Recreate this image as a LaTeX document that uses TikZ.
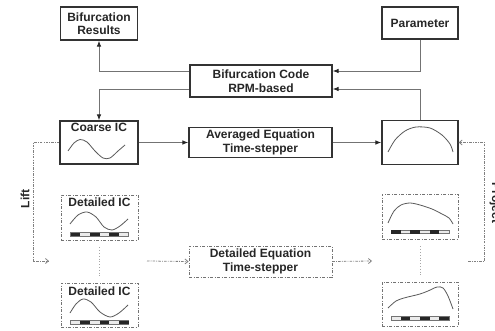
\documentclass[tikz,border=0pt]{standalone}
\usepackage{fontspec}
\setmainfont{Liberation Sans}
\usetikzlibrary{arrows.meta,positioning,calc}

% six-cell grid bar under a profile, #3 = 0: dark cell first, 1: light cell first
\newcommand{\meshbar}[3]{%
  \draw[black!55,fill=black!8,line width=0.4pt] (#1,#2) rectangle ++(58,3.5);
  \foreach \k in {0,2,4}
    \fill[black!85] ({#1+(\k+#3)*58/6},#2) rectangle ++(58/6,3.5);
}

\begin{document}
\begin{tikzpicture}[x=1pt,y=-1pt,
    box/.style={draw=black!80,line width=1.2pt,fill=white,inner sep=0pt},
    dbox/.style={draw=black!55,line width=0.9pt,
      dash pattern=on 3pt off 1.5pt on 1pt off 1.5pt,inner sep=0pt},
    ttl/.style={text=black!85,font=\bfseries\fontsize{12}{13.5}\selectfont,align=center},
    lbl/.style={text=black!85,font=\bfseries\fontsize{12}{13.5}\selectfont,inner sep=0pt},
    link/.style={draw=black!55,line width=0.9pt,
      -{Latex[length=6pt,width=4.5pt,color=black!85]}},
    dlink/.style={draw=black!50,line width=0.8pt,
      dash pattern=on 2.5pt off 1.2pt on 0.8pt off 1.2pt,
      -{Straight Barb[length=3pt,width=5pt]}},
    dots/.style={draw=black!35,line width=0.8pt,dotted,shorten <=7pt,shorten >=6pt},
    wave/.style={draw=black!65,line width=0.8pt}]
  \useasboundingbox (0,0) rectangle (495,331);

  % Top row
  \node[box,ttl,minimum width=77,minimum height=33] (bres) at (99,23.5) {Bifurcation\\Results};
  \node[box,ttl,minimum width=76,minimum height=32] (par) at (420,23) {Parameter};
  \node[box,ttl,minimum width=142,minimum height=32] (bc) at (261,81) {Bifurcation Code\\RPM-based};

  % Coarse level
  \node[box,minimum width=78,minimum height=43] (cic) at (99,142.5) {};
  \node[ttl,inner sep=1.5pt,anchor=north] (cicT) at ([yshift=-1pt]cic.north) {Coarse IC};
  \node[box,ttl,minimum width=143,minimum height=30] (ave) at (260.5,142.5) {Averaged Equation\\Time-stepper};
  \node[box,minimum width=76,minimum height=44] (cout) at (420,142.5) {};

  % Fine level
  \node[dbox,minimum width=77,minimum height=45] (dit) at (99.5,217.5) {};
  \node[ttl,inner sep=1.5pt,anchor=north] (ditT) at ([yshift=-2pt]dit.north) {Detailed IC};
  \node[dbox,minimum width=77,minimum height=44] (dib) at (99.5,305) {};
  \node[ttl,inner sep=1.5pt,anchor=north] (dibT) at ([yshift=-2.5pt]dib.north) {Detailed IC};
  \node[dbox,ttl,minimum width=143,minimum height=31] (de) at (260.5,261.5) {Detailed Equation\\Time-stepper};
  \node[dbox,minimum width=76,minimum height=45] (dot) at (420,216.5) {};
  \node[dbox,minimum width=76,minimum height=44] (dob) at (420,304) {};

  % Profiles
  \draw[wave] plot[smooth] coordinates {(68,151) (74,143) (80,139.5) (87,142) (95,151)
    (103,158) (110,158) (118,151) (125,145)};
  \draw[wave] plot[smooth] coordinates {(388,152) (395,140) (405,131) (416,127)
    (430,128) (442,135) (450,144) (453,152)};
  \draw[wave] plot[smooth] coordinates {(70,224) (78,215) (87,212) (96,217)
    (104,227) (112,230) (120,226) (128,219)};
  \draw[wave] plot[smooth] coordinates {(70,313) (76,304) (83,299) (91,302)
    (100,312) (110,317) (119,313) (128,305)};
  \draw[wave] plot[smooth] coordinates {(388,223) (394,211) (401,205) (410,203)
    (420,205) (432,209) (442,214) (449,218) (453,224)};
  \draw[wave] plot[smooth] coordinates {(388,308) (396,301) (404,298) (412,296)
    (420,294) (428,291) (437,287) (443,288) (448,296) (453,309)};
  \meshbar{70.5}{232.5}{0}
  \meshbar{70.5}{320.5}{1}
  \meshbar{391}{230}{0}
  \meshbar{391}{316.5}{1}

  % Control loop
  \draw[link] ([yshift=10pt]bc.west) -| (bres.south);
  \draw[link] ([yshift=-8pt]bc.west) -| (cic.north);
  \draw[link] (par.south) |- ([yshift=10pt]bc.east);
  \draw[link] (cout.north) |- ([yshift=-8pt]bc.east);
  \draw[link] (cic.east) -- (ave.west);
  \draw[link] (ave.east) -- (cout.west);

  % Lift, detailed run, project
  \coordinate (liftend) at (49,261);
  \coordinate (dstart) at (147,261);
  \coordinate (dend) at (372,261);
  \coordinate (pstart) at (468,261);
  \draw[dlink] (cic.west) -| ($(liftend)+(-16,0)$) -- (liftend);
  \draw[dlink] (dstart) -- (de.west);
  \draw[dlink] (de.east) -- (dend);
  \draw[dlink] (pstart) -| ($(cout.east)+(26,0)$) -- (cout.east);
  \draw[dots] (dit.south) -- (dib.north);
  \draw[dots] (dot.south) -- (dob.north);
  \node[lbl,rotate=90] (lift) at (25,199) {Lift};
  \node[lbl,rotate=-90,anchor=base] (proj) at (492,203) {Project};
\end{tikzpicture}
\end{document}
